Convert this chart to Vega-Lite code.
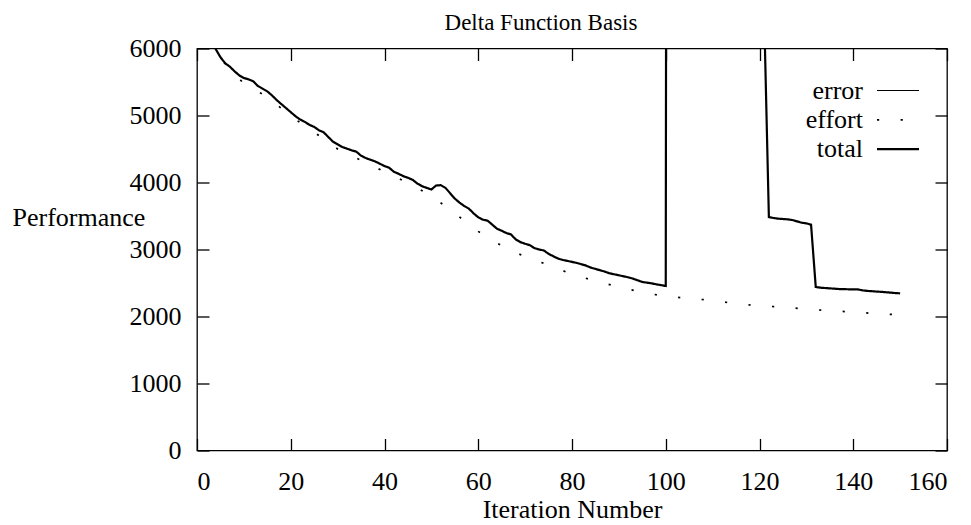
{
  "$schema": "https://vega.github.io/schema/vega-lite/v6.json",
  "width": 750,
  "height": 402,
  "autosize": "none",
  "padding": {"left": 197, "top": 48.5, "right": 24, "bottom": 74.5},
  "background": "white",
  "title": {"text": "Delta Function Basis", "fontSize": 23, "font": "Liberation Serif", "fontWeight": "normal", "color": "black", "dx": -31, "offset": 0, "dy": 17.5, "baseline": "alphabetic"},
  "datasets": {
    "perf": [
      {"iteration": 3, "value": 6150, "series": "total"},
      {"iteration": 4, "value": 5990, "series": "total"},
      {"iteration": 5, "value": 5870, "series": "total"},
      {"iteration": 6, "value": 5780, "series": "total"},
      {"iteration": 7, "value": 5730, "series": "total"},
      {"iteration": 8, "value": 5660, "series": "total"},
      {"iteration": 9, "value": 5600, "series": "total"},
      {"iteration": 10, "value": 5560, "series": "total"},
      {"iteration": 11, "value": 5540, "series": "total"},
      {"iteration": 12, "value": 5510, "series": "total"},
      {"iteration": 13, "value": 5440, "series": "total"},
      {"iteration": 14, "value": 5400, "series": "total"},
      {"iteration": 15, "value": 5360, "series": "total"},
      {"iteration": 16, "value": 5300, "series": "total"},
      {"iteration": 17, "value": 5230, "series": "total"},
      {"iteration": 18, "value": 5170, "series": "total"},
      {"iteration": 19, "value": 5110, "series": "total"},
      {"iteration": 20, "value": 5050, "series": "total"},
      {"iteration": 21, "value": 4990, "series": "total"},
      {"iteration": 22, "value": 4940, "series": "total"},
      {"iteration": 23, "value": 4905, "series": "total"},
      {"iteration": 24, "value": 4860, "series": "total"},
      {"iteration": 25, "value": 4830, "series": "total"},
      {"iteration": 26, "value": 4780, "series": "total"},
      {"iteration": 27, "value": 4750, "series": "total"},
      {"iteration": 28, "value": 4680, "series": "total"},
      {"iteration": 29, "value": 4610, "series": "total"},
      {"iteration": 30, "value": 4570, "series": "total"},
      {"iteration": 31, "value": 4530, "series": "total"},
      {"iteration": 32, "value": 4505, "series": "total"},
      {"iteration": 33, "value": 4480, "series": "total"},
      {"iteration": 34, "value": 4460, "series": "total"},
      {"iteration": 35, "value": 4400, "series": "total"},
      {"iteration": 36, "value": 4365, "series": "total"},
      {"iteration": 37, "value": 4340, "series": "total"},
      {"iteration": 38, "value": 4315, "series": "total"},
      {"iteration": 39, "value": 4280, "series": "total"},
      {"iteration": 40, "value": 4245, "series": "total"},
      {"iteration": 41, "value": 4220, "series": "total"},
      {"iteration": 42, "value": 4160, "series": "total"},
      {"iteration": 43, "value": 4130, "series": "total"},
      {"iteration": 44, "value": 4095, "series": "total"},
      {"iteration": 45, "value": 4070, "series": "total"},
      {"iteration": 46, "value": 4040, "series": "total"},
      {"iteration": 47, "value": 3985, "series": "total"},
      {"iteration": 48, "value": 3945, "series": "total"},
      {"iteration": 49, "value": 3920, "series": "total"},
      {"iteration": 50, "value": 3895, "series": "total"},
      {"iteration": 51, "value": 3955, "series": "total"},
      {"iteration": 52, "value": 3960, "series": "total"},
      {"iteration": 53, "value": 3920, "series": "total"},
      {"iteration": 54, "value": 3840, "series": "total"},
      {"iteration": 55, "value": 3760, "series": "total"},
      {"iteration": 56, "value": 3700, "series": "total"},
      {"iteration": 57, "value": 3650, "series": "total"},
      {"iteration": 58, "value": 3610, "series": "total"},
      {"iteration": 59, "value": 3540, "series": "total"},
      {"iteration": 60, "value": 3480, "series": "total"},
      {"iteration": 61, "value": 3445, "series": "total"},
      {"iteration": 62, "value": 3430, "series": "total"},
      {"iteration": 63, "value": 3370, "series": "total"},
      {"iteration": 64, "value": 3310, "series": "total"},
      {"iteration": 65, "value": 3280, "series": "total"},
      {"iteration": 66, "value": 3245, "series": "total"},
      {"iteration": 67, "value": 3225, "series": "total"},
      {"iteration": 68, "value": 3150, "series": "total"},
      {"iteration": 69, "value": 3110, "series": "total"},
      {"iteration": 70, "value": 3085, "series": "total"},
      {"iteration": 71, "value": 3065, "series": "total"},
      {"iteration": 72, "value": 3020, "series": "total"},
      {"iteration": 73, "value": 3000, "series": "total"},
      {"iteration": 74, "value": 2985, "series": "total"},
      {"iteration": 75, "value": 2935, "series": "total"},
      {"iteration": 76, "value": 2900, "series": "total"},
      {"iteration": 77, "value": 2865, "series": "total"},
      {"iteration": 78, "value": 2845, "series": "total"},
      {"iteration": 79, "value": 2830, "series": "total"},
      {"iteration": 80, "value": 2815, "series": "total"},
      {"iteration": 81, "value": 2800, "series": "total"},
      {"iteration": 82, "value": 2780, "series": "total"},
      {"iteration": 83, "value": 2760, "series": "total"},
      {"iteration": 84, "value": 2730, "series": "total"},
      {"iteration": 85, "value": 2710, "series": "total"},
      {"iteration": 86, "value": 2690, "series": "total"},
      {"iteration": 87, "value": 2670, "series": "total"},
      {"iteration": 88, "value": 2645, "series": "total"},
      {"iteration": 89, "value": 2630, "series": "total"},
      {"iteration": 90, "value": 2615, "series": "total"},
      {"iteration": 91, "value": 2600, "series": "total"},
      {"iteration": 92, "value": 2585, "series": "total"},
      {"iteration": 93, "value": 2565, "series": "total"},
      {"iteration": 94, "value": 2540, "series": "total"},
      {"iteration": 95, "value": 2515, "series": "total"},
      {"iteration": 96, "value": 2505, "series": "total"},
      {"iteration": 97, "value": 2495, "series": "total"},
      {"iteration": 98, "value": 2480, "series": "total"},
      {"iteration": 99, "value": 2468, "series": "total"},
      {"iteration": 100, "value": 2455, "series": "total"},
      {"iteration": 101, "value": 60000, "series": "total"},
      {"iteration": 121, "value": 6500, "series": "total"},
      {"iteration": 122, "value": 3485, "series": "total"},
      {"iteration": 123, "value": 3470, "series": "total"},
      {"iteration": 124, "value": 3460, "series": "total"},
      {"iteration": 125, "value": 3455, "series": "total"},
      {"iteration": 126, "value": 3450, "series": "total"},
      {"iteration": 127, "value": 3440, "series": "total"},
      {"iteration": 128, "value": 3420, "series": "total"},
      {"iteration": 129, "value": 3400, "series": "total"},
      {"iteration": 130, "value": 3390, "series": "total"},
      {"iteration": 131, "value": 3370, "series": "total"},
      {"iteration": 132, "value": 2440, "series": "total"},
      {"iteration": 133, "value": 2430, "series": "total"},
      {"iteration": 134, "value": 2425, "series": "total"},
      {"iteration": 135, "value": 2420, "series": "total"},
      {"iteration": 136, "value": 2415, "series": "total"},
      {"iteration": 137, "value": 2410, "series": "total"},
      {"iteration": 138, "value": 2408, "series": "total"},
      {"iteration": 139, "value": 2406, "series": "total"},
      {"iteration": 140, "value": 2405, "series": "total"},
      {"iteration": 141, "value": 2404, "series": "total"},
      {"iteration": 142, "value": 2390, "series": "total"},
      {"iteration": 143, "value": 2382, "series": "total"},
      {"iteration": 144, "value": 2378, "series": "total"},
      {"iteration": 145, "value": 2372, "series": "total"},
      {"iteration": 146, "value": 2368, "series": "total"},
      {"iteration": 147, "value": 2362, "series": "total"},
      {"iteration": 148, "value": 2356, "series": "total"},
      {"iteration": 149, "value": 2350, "series": "total"},
      {"iteration": 150, "value": 2345, "series": "total"},
      {"iteration": 3, "value": 6080, "series": "effort"},
      {"iteration": 5, "value": 5850, "series": "effort"},
      {"iteration": 10, "value": 5475, "series": "effort"},
      {"iteration": 15, "value": 5280, "series": "effort"},
      {"iteration": 20, "value": 4990, "series": "effort"},
      {"iteration": 25, "value": 4750, "series": "effort"},
      {"iteration": 30, "value": 4500, "series": "effort"},
      {"iteration": 35, "value": 4330, "series": "effort"},
      {"iteration": 40, "value": 4160, "series": "effort"},
      {"iteration": 45, "value": 3995, "series": "effort"},
      {"iteration": 50, "value": 3800, "series": "effort"},
      {"iteration": 55, "value": 3540, "series": "effort"},
      {"iteration": 60, "value": 3270, "series": "effort"},
      {"iteration": 65, "value": 3055, "series": "effort"},
      {"iteration": 70, "value": 2890, "series": "effort"},
      {"iteration": 75, "value": 2770, "series": "effort"},
      {"iteration": 80, "value": 2630, "series": "effort"},
      {"iteration": 85, "value": 2530, "series": "effort"},
      {"iteration": 90, "value": 2440, "series": "effort"},
      {"iteration": 95, "value": 2360, "series": "effort"},
      {"iteration": 100, "value": 2300, "series": "effort"},
      {"iteration": 105, "value": 2270, "series": "effort"},
      {"iteration": 110, "value": 2240, "series": "effort"},
      {"iteration": 115, "value": 2190, "series": "effort"},
      {"iteration": 120, "value": 2160, "series": "effort"},
      {"iteration": 125, "value": 2140, "series": "effort"},
      {"iteration": 130, "value": 2112, "series": "effort"},
      {"iteration": 135, "value": 2085, "series": "effort"},
      {"iteration": 140, "value": 2068, "series": "effort"},
      {"iteration": 145, "value": 2042, "series": "effort"},
      {"iteration": 150, "value": 2025, "series": "effort"}
    ]
  },
  "data": {"name": "perf"},
  "layer": [
    {
      "mark": {"type": "line", "clip": true, "color": "black", "strokeCap": "butt", "strokeJoin": "miter"},
      "encoding": {
        "x": {
          "field": "iteration", "type": "quantitative",
          "scale": {"domain": [0, 160], "nice": false, "zero": false},
          "axis": {"orient": "bottom", "values": [0, 20, 40, 60, 80, 100, 120, 140, 160], "title": "Iteration Number", "labelPadding": 30, "titleBaseline": "alphabetic", "titleY": 66.5}
        },
        "y": {
          "field": "value", "type": "quantitative",
          "scale": {"domain": [0, 6000], "nice": false},
          "axis": {"orient": "left", "values": [0, 1000, 2000, 3000, 4000, 5000, 6000], "format": "d", "title": "Performance", "labelPadding": 28, "titleAngle": 0, "titleAlign": "left", "titleBaseline": "alphabetic", "titleX": -185, "titleY": 176.5}
        },
        "strokeDash": {
          "field": "series", "type": "ordinal",
          "scale": {"domain": ["error", "effort", "total"], "range": [[1, 0], [2.2, 21.4], [1, 0]]},
          "legend": {"title": null, "orient": "none", "legendX": 688, "legendY": 29, "labelAlign": "right", "labelOffset": -48, "symbolType": "M-2,0H2", "symbolSize": 441, "rowPadding": 3.3}
        },
        "strokeWidth": {
          "field": "series", "type": "ordinal",
          "scale": {"domain": ["error", "effort", "total"], "range": [1.2, 2.2, 3.2]},
          "legend": {"title": null, "orient": "none", "legendX": 688, "legendY": 29, "labelAlign": "right", "labelOffset": -48, "symbolType": "M-2,0H2", "symbolSize": 441, "rowPadding": 3.3}
        }
      }
    },
    {
      "mark": {"type": "line", "opacity": 0, "clip": true},
      "encoding": {
        "x": {
          "field": "iteration", "type": "quantitative",
          "axis": {"orient": "top", "values": [0, 20, 40, 60, 80, 100, 120, 140, 160], "labels": false, "title": null}
        },
        "y": {
          "field": "value", "type": "quantitative",
          "axis": {"orient": "right", "values": [0, 1000, 2000, 3000, 4000, 5000, 6000], "labels": false, "title": null}
        },
        "detail": {"field": "series"}
      }
    }
  ],
  "resolve": {"axis": {"x": "independent", "y": "independent"}},
  "config": {
    "font": "Liberation Serif",
    "view": {"stroke": "black", "strokeWidth": 1.3},
    "axis": {
      "domain": false, "grid": false,
      "ticks": true, "tickSize": -12, "tickColor": "black", "tickWidth": 1.3,
      "labelFont": "Liberation Serif", "labelFontSize": 26, "labelColor": "black",
      "titleFont": "Liberation Serif", "titleFontSize": 26, "titleFontWeight": "normal", "titleColor": "black"
    },
    "legend": {
      "labelFont": "Liberation Serif", "labelFontSize": 26, "labelColor": "black",
      "symbolStrokeColor": "black", "symbolFillColor": "transparent"
    }
  }
}
